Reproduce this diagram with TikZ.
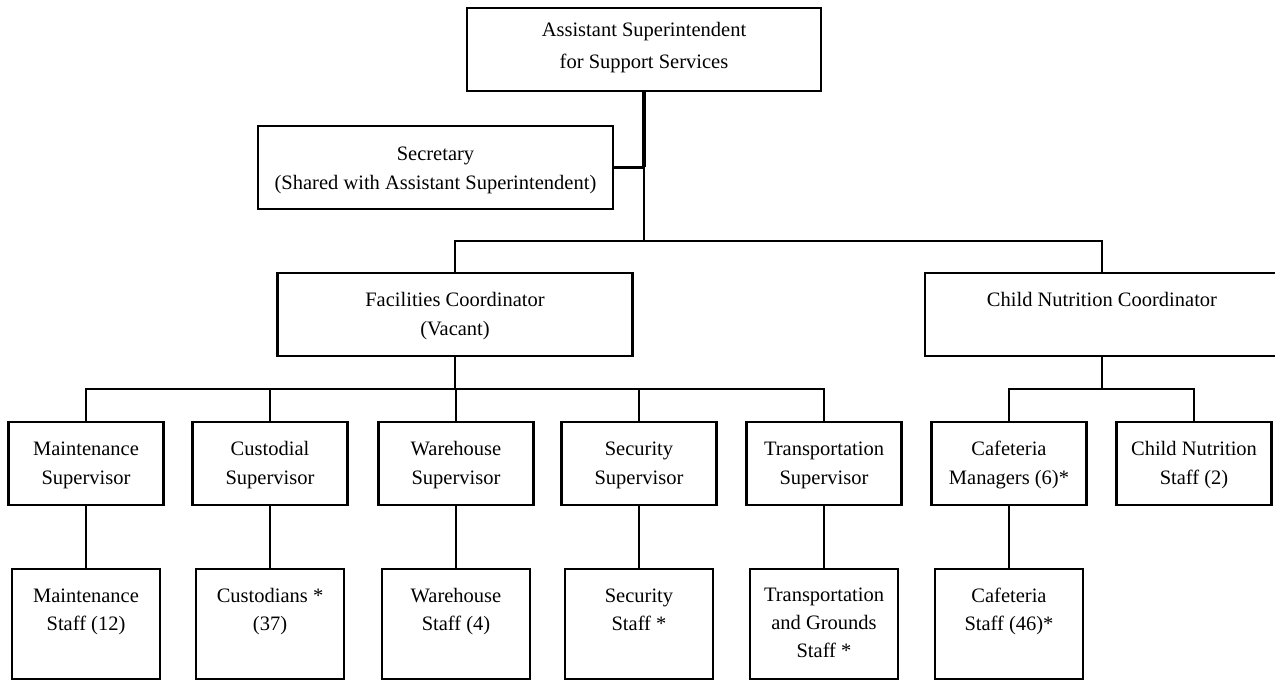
\documentclass[tikz,border=0pt]{standalone}
\usepackage{fontspec}
\setmainfont{Liberation Serif}
\begin{document}
\begin{tikzpicture}[x=1bp,y=-1bp,
  box/.style={draw=black, line width=2.4bp, inner sep=0pt, fill=none},
  lbl/.style={font=\fontsize{20.5bp}{28.5bp}\selectfont, align=center, anchor=base, inner sep=0pt},
  conn/.style={draw=black, line width=2.4bp},
  thickconn/.style={draw=black, line width=3.2bp}]
\useasboundingbox (0,0) rectangle (1275,681);
\begin{scope}
\clip (0,0) rectangle (1275,681);
% level 0/1
\node[box, minimum width=354bp, minimum height=83bp] (top) at (644,49.5) {};
\node[box, minimum width=355bp, minimum height=83bp] (sec) at (435.5,167.5) {};
\node[box, minimum width=355bp, minimum height=83bp] (fac) at (455,314.5) {};
\node[box, minimum width=354bp, minimum height=83bp] (cnc) at (1102,314.5) {};
% supervisors
\foreach \n/\x in {ms/86, cs/270, ws/456, ss/639, ts/824, cm/1009, cn/1194}
  \node[box, minimum width=155bp, minimum height=83bp] (\n) at (\x,463.5) {};
% staff
\foreach \n/\x in {mst/86, cst/270, wst/456, sst/639, tst/824, caf/1009}
  \node[box, minimum width=148bp, minimum height=110bp] (\n) at (\x,624) {};
\end{scope}
% labels (anchor = baseline of the last line)
\node[lbl, font=\fontsize{20.5bp}{32bp}\selectfont] (ttop) at ([yshift=-62bp]top.north) {Assistant Superintendent\\for Support Services};
\node[lbl] (tsec) at ([yshift=-64.5bp]sec.north) {Secretary\\(Shared with Assistant Superintendent)};
\node[lbl] (tfac) at ([yshift=-63.5bp]fac.north) {Facilities Coordinator\\(Vacant)};
\node[lbl] (tcnc) at ([yshift=-35bp]cnc.north) {Child Nutrition Coordinator};
\node[lbl] (tms) at ([yshift=-63.5bp]ms.north) {Maintenance\\Supervisor};
\node[lbl] (tcs) at ([yshift=-63.5bp]cs.north) {Custodial\\Supervisor};
\node[lbl] (tws) at ([yshift=-63.5bp]ws.north) {Warehouse\\Supervisor};
\node[lbl] (tss) at ([yshift=-63.5bp]ss.north) {Security\\Supervisor};
\node[lbl] (tts) at ([yshift=-63.5bp]ts.north) {Transportation\\Supervisor};
\node[lbl] (tcm) at ([yshift=-63.5bp]cm.north) {Cafeteria\\Managers (6)*};
\node[lbl] (tcn) at ([yshift=-63.5bp]cn.north) {Child Nutrition\\Staff (2)};
\node[lbl] (tmst) at ([yshift=-63bp]mst.north) {Maintenance\\Staff (12)};
\node[lbl] (tcst) at ([yshift=-63bp]cst.north) {Custodians *\\(37)};
\node[lbl] (twst) at ([yshift=-63bp]wst.north) {Warehouse\\Staff (4)};
\node[lbl] (tsst) at ([yshift=-63bp]sst.north) {Security\\Staff *};
\node[lbl, font=\fontsize{20.5bp}{28bp}\selectfont] (ttst) at ([yshift=-90bp]tst.north) {Transportation\\and Grounds\\Staff *};
\node[lbl] (tcaf) at ([yshift=-63bp]caf.north) {Cafeteria\\Staff (46)*};
% bus levels
\coordinate (j1) at (0,241);
\coordinate (j2) at (0,389);
% connectors
\draw[thickconn] (top.south) -- (top.south |- sec.east);
\draw[conn] (top.south |- sec.east) -- (top.south |- j1);
\draw[conn] (sec.east) -- (sec.east -| top.south);
\draw[conn] (fac.north) -- (fac.north |- j1) -- (cnc.north |- j1) -- (cnc.north);
\draw[conn] (fac.south) -- (fac.south |- j2);
\draw[conn] (ms.north) -- (ms.north |- j2) -- (ts.north |- j2) -- (ts.north);
\foreach \n in {cs, ws, ss}
  \draw[conn] (\n.north) -- (\n.north |- j2);
\draw[conn] (cnc.south) -- (cnc.south |- j2);
\draw[conn] (cm.north) -- (cm.north |- j2) -- (cn.north |- j2) -- (cn.north);
\foreach \a/\b in {ms/mst, cs/cst, ws/wst, ss/sst, ts/tst, cm/caf}
  \draw[conn] (\a.south) -- (\b.north);
\end{tikzpicture}
\end{document}
